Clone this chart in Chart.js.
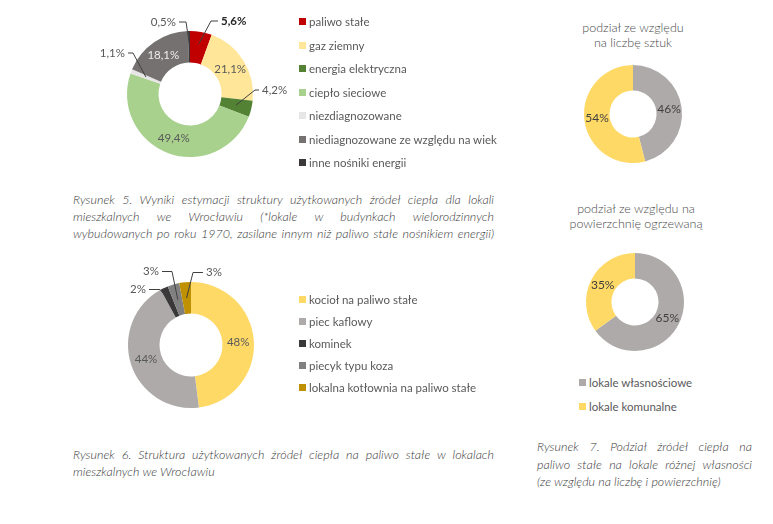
<!DOCTYPE html>
<html lang="pl">
<head>
<meta charset="UTF-8">
<title>Źródła ciepła – Wrocław</title>
<script src="https://cdn.jsdelivr.net/npm/chart.js"></script>
<style>
  body { margin: 0; background: #fff; }
  #page { position: relative; width: 773px; height: 524px; overflow: hidden;
          font-family: Lato, "Open Sans", sans-serif; color: #595959; }
  canvas { position: absolute; }
  .legend { position: absolute; font-size: 11.5px; }
  .legend div { display: flex; align-items: center; white-space: nowrap; }
  .legend i { display: inline-block; width: 7px; height: 7px; margin-right: 3px; }
  .title { position: absolute; text-align: center; font-size: 12.5px; line-height: 15px; font-weight: 300; color: #4a4a4a; }
  .caption { position: absolute; font-style: italic; font-weight: 300; font-size: 12.5px; line-height: 17px; color: #3a3a3a; }
  .caption span { display: block; white-space: nowrap; text-align: justify; text-align-last: justify; }
  .caption span.last { text-align-last: left; }
</style>
</head>
<body>
<div id="page">
  <canvas id="chart5" width="220" height="180" style="left:80px;top:4px"></canvas>
  <div class="legend" id="legend5" style="left:299px;top:10px"></div>
  <div class="caption" style="left:73px;top:191px;width:421px">
    <span>Rysunek 5. Wyniki estymacji struktury użytkowanych źródeł ciepła dla lokali</span>
    <span>mieszkalnych we Wrocławiu (*lokale w budynkach wielorodzinnych</span>
    <span>wybudowanych po roku 1970, zasilane innym niż paliwo stałe nośnikiem energii)</span>
  </div>

  <canvas id="chart6" width="220" height="180" style="left:81px;top:255px"></canvas>
  <div class="legend" id="legend6" style="left:299px;top:288px"></div>
  <div class="caption" style="left:73px;top:446px;width:421px">
    <span>Rysunek 6. Struktura użytkowanych źródeł ciepła na paliwo stałe w lokalach</span>
    <span class="last">mieszkalnych we Wrocławiu</span>
  </div>

  <div class="title" style="left:553px;top:20px;width:160px">podział ze względu<br>na liczbę sztuk</div>
  <canvas id="chart7a" width="120" height="120" style="left:573px;top:54px"></canvas>
  <div class="title" style="left:556px;top:201px;width:160px">podział ze względu na<br>powierzchnię ogrzewaną</div>
  <canvas id="chart7b" width="120" height="120" style="left:575px;top:242px"></canvas>
  <div class="legend" id="legend7" style="left:579px;top:370px"></div>
  <div class="caption" style="left:537px;top:438px;width:215px;line-height:17.5px">
    <span>Rysunek 7. Podział źródeł ciepła na</span>
    <span>paliwo stałe na lokale różnej własności</span>
    <span class="last">(ze względu na liczbę i powierzchnię)</span>
  </div>
</div>

<script>
// Rysunek 5 - struktura źródeł ciepła (%)
const labels5 = ['paliwo stałe', 'gaz ziemny', 'energia elektryczna', 'ciepło sieciowe',
                 'niezdiagnozowane', 'niediagnozowane ze względu na wiek', 'inne nośniki energii'];
const values5 = [5.6, 21.1, 4.2, 49.4, 1.1, 18.1, 0.5];
const colors5 = ['#C00000', '#FFE699', '#548235', '#A9D18E', '#E7E6E6', '#767171', '#3A3838'];

// Rysunek 6 - źródła na paliwo stałe (%)
const labels6 = ['kocioł na paliwo stałe', 'piec kaflowy', 'kominek', 'piecyk typu koza',
                 'lokalna kotłownia na paliwo stałe'];
const values6 = [48, 44, 2, 3, 3];
const colors6 = ['#FFD966', '#AEAAAA', '#3A3838', '#808080', '#BF9000'];

// Rysunek 7 - własność lokali (%)
const labels7 = ['lokale własnościowe', 'lokale komunalne'];
const countShare = [46, 54];
const areaShare = [65, 35];
const colors7 = ['#AEAAAA', '#FFD966'];

// podpisy wartości: w środku pierścienia albo z linią odniesienia
const sliceLabels = {
  id: 'sliceLabels',
  afterDatasetsDraw(chart, args, opts) {
    const ctx = chart.ctx;
    const ds = chart.data.datasets[0];
    chart.getDatasetMeta(0).data.forEach((arc, i) => {
      const p = arc.getProps(['x', 'y', 'startAngle', 'endAngle', 'innerRadius', 'outerRadius'], true);
      const mid = (p.startAngle + p.endAngle) / 2;
      const c = opts.callouts[i];
      const r = (p.innerRadius + p.outerRadius) / 2 + (c && c.r ? c.r : 0);
      const ax = p.x + Math.cos(mid) * r;
      const ay = p.y + Math.sin(mid) * r;
      const text = opts.format(ds.data[i]);
      ctx.save();
      ctx.fillStyle = (c && c.color) || opts.color;
      ctx.font = ((c && c.bold) ? 'bold ' : '') + opts.size + 'px Lato, "Open Sans", sans-serif';
      ctx.textBaseline = 'middle';
      if (c && c.dx !== undefined) {
        const ex = p.x + c.dx, ey = p.y + c.dy;
        const hx = ex + c.tail;
        ctx.strokeStyle = '#404040';
        ctx.lineWidth = 1;
        ctx.beginPath();
        ctx.moveTo(ax, ay);
        ctx.lineTo(ex, ey);
        ctx.lineTo(hx, ey);
        ctx.stroke();
        ctx.textAlign = c.tail > 0 ? 'left' : 'right';
        ctx.fillText(text, hx + (c.tail > 0 ? 3 : -3), ey);
      } else {
        ctx.textAlign = 'center';
        ctx.fillText(text, ax, ay);
      }
      ctx.restore();
    });
  }
};

function doughnut(id, labels, values, colors, radius, cutout, labelOpts) {
  return new Chart(document.getElementById(id), {
    type: 'doughnut',
    data: {
      labels: labels,
      datasets: [{ data: values, backgroundColor: colors, borderWidth: 0 }]
    },
    options: {
      responsive: false,
      animation: false,
      events: [],
      radius: radius,
      cutout: cutout,
      plugins: {
        legend: { display: false },
        tooltip: { enabled: false },
        sliceLabels: labelOpts
      }
    },
    plugins: [sliceLabels]
  });
}

function htmlLegend(chart, el, rowHeight) {
  const items = chart.options.plugins.legend.labels.generateLabels(chart);
  items.forEach(item => {
    const row = document.createElement('div');
    row.style.height = rowHeight + 'px';
    row.innerHTML = '<i style="background:' + item.fillStyle + '"></i>' + item.text;
    el.appendChild(row);
  });
}

const pct1 = v => v.toFixed(1).replace('.', ',') + '%';
const pct0 = v => v + '%';

const c5 = doughnut('chart5', labels5, values5, colors5, 63, '50%', {
  format: pct1, size: 11.5, color: '#595959',
  callouts: {
    0: { dx: 21, dy: -73, tail: 7, r: 4, bold: true, color: '#262626' },
    2: { dx: 65, dy: -4, tail: 4 },
    4: { dx: -57, dy: -41, tail: -5 },
    5: { color: '#EDEDED' },
    6: { dx: -4, dy: -72, tail: -7, r: 4 }
  }
});
htmlLegend(c5, document.getElementById('legend5'), 23.5);

const c6 = doughnut('chart6', labels6, values6, colors6, 63, '50%', {
  format: pct0, size: 11.5, color: '#595959',
  callouts: {
    2: { dx: -31, dy: -55.5, tail: -11 },
    3: { dx: -19, dy: -73.5, tail: -10 },
    4: { dx: 2, dy: -72.5, tail: 10 }
  }
});
htmlLegend(c6, document.getElementById('legend6'), 22);

const c7a = doughnut('chart7a', labels7, countShare, colors7, 49, '48%', {
  format: pct0, size: 12, color: '#404040', callouts: {}
});
doughnut('chart7b', labels7, areaShare, colors7, 49, '48%', {
  format: pct0, size: 12, color: '#404040', callouts: {}
});
htmlLegend(c7a, document.getElementById('legend7'), 24);
</script>
</body>
</html>
